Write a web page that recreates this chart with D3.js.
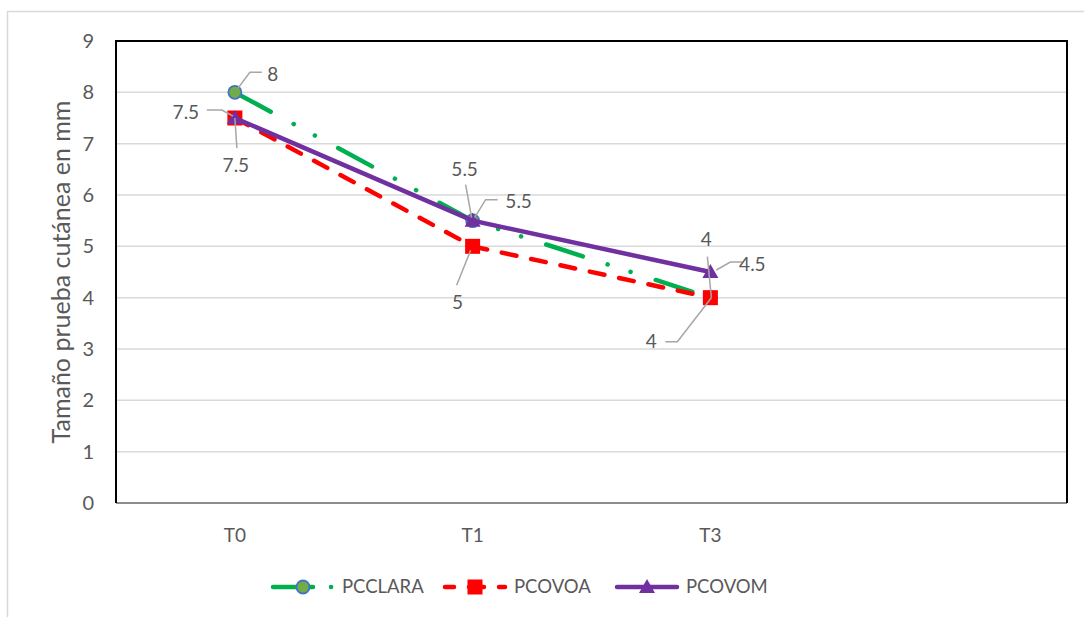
<!DOCTYPE html>
<html>
<head>
<meta charset="utf-8">
<script src="https://cdn.jsdelivr.net/npm/d3@7/dist/d3.min.js"></script>
<style>
body { margin: 0; background: #fff; }
text { font-family: Lato, "Open Sans", sans-serif; fill: #595959; }
.grid line { stroke: #d9d9d9; stroke-width: 1.5px; }
.lead { fill: none; stroke: #a6a6a6; stroke-width: 1.5px; }
</style>
</head>
<body>
<script>
// data
var categories = ["T0", "T1", "T3", ""];
var pcclara = [8, 5.5, 4];
var pcovoa = [7.5, 5, 4];
var pcovom = [7.5, 5.5, 4.5];
var seriesNames = ["PCCLARA", "PCOVOA", "PCOVOM"];
var yTicks = [0, 1, 2, 3, 4, 5, 6, 7, 8, 9];

var width = 1084, height = 617;
var margin = {left: 116, top: 41, right: 17, bottom: 114};

var svg = d3.select("body").append("svg")
    .attr("width", width)
    .attr("height", height);

// outer chart frame (cut off on right and bottom)
svg.append("path")
    .attr("d", "M7.5," + height + "V11.5H" + width)
    .attr("fill", "none")
    .attr("stroke", "#d9d9d9")
    .attr("stroke-width", 1.5);

var x = d3.scaleBand()
    .domain(categories)
    .range([margin.left, width - margin.right]);
var y = d3.scaleLinear()
    .domain([0, 9])
    .range([height - margin.bottom, margin.top]);

var px = function(i) { return x(categories[i]) + x.bandwidth() / 2; };

// gridlines
svg.append("g")
    .attr("class", "grid")
    .selectAll("line")
    .data(yTicks.slice(1))
  .enter().append("line")
    .attr("x1", margin.left).attr("x2", width - margin.right)
    .attr("y1", d => y(d)).attr("y2", d => y(d));

// y tick labels
svg.append("g").selectAll("text")
    .data(yTicks)
  .enter().append("text")
    .attr("x", margin.left - 22)
    .attr("y", d => y(d))
    .attr("dy", "0.35em")
    .attr("text-anchor", "end")
    .style("font-size", "20px")
    .text(d => d);

// x tick labels
svg.append("g").selectAll("text")
    .data(categories)
  .enter().append("text")
    .attr("x", d => x(d) + x.bandwidth() / 2)
    .attr("y", y(0) + 32)
    .attr("dy", "0.35em")
    .attr("text-anchor", "middle")
    .style("font-size", "19px")
    .text(d => d);

// axis title
svg.append("text")
    .attr("transform", "translate(61," + ((margin.top + y(0)) / 2) + ") rotate(-90)")
    .attr("text-anchor", "middle")
    .attr("dy", "0.35em")
    .style("font-size", "25px")
    .text("Tamaño prueba cutánea en mm");

// plot frame
svg.append("line")
    .attr("x1", margin.left).attr("x2", width - margin.right)
    .attr("y1", y(0)).attr("y2", y(0))
    .attr("stroke", "#8c8c8c").attr("stroke-width", 2);
svg.append("path")
    .attr("d", "M" + margin.left + "," + y(0) + "V" + margin.top + "H" + (width - margin.right) + "V" + y(0))
    .attr("fill", "none")
    .attr("stroke", "#000")
    .attr("stroke-width", 2);

var styles = [
  {color: "#00B050", dash: "38.5,26,0.1,24,0.1,26.4", marker: "circle"},
  {color: "#FF0000", dash: "15,15", marker: "square"},
  {color: "#7030A0", dash: null, marker: "triangle"}
];
var allSeries = [pcclara, pcovoa, pcovom];

var line = d3.line()
    .x((d, i) => px(i))
    .y(d => y(d));

function drawMarker(g, type, cx, cy) {
  if (type == "circle") {
    g.append("circle").attr("cx", cx).attr("cy", cy).attr("r", 6.5)
      .attr("fill", "#70AD47").attr("stroke", "#4472C4").attr("stroke-width", 1.8);
  } else if (type == "square") {
    g.append("rect").attr("x", cx - 7.5).attr("y", cy - 7.5)
      .attr("width", 15).attr("height", 15).attr("fill", "#FF0000");
  } else {
    g.append("path")
      .attr("d", "M" + cx + "," + (cy - 8) + "L" + (cx + 8) + "," + (cy + 6) + "L" + (cx - 8) + "," + (cy + 6) + "Z")
      .attr("fill", "#7030A0");
  }
}

allSeries.forEach(function(vals, s) {
  var g = svg.append("g");
  g.append("path")
    .datum(vals)
    .attr("d", line)
    .attr("fill", "none")
    .attr("stroke", styles[s].color)
    .attr("stroke-width", 4.5)
    .attr("stroke-linecap", "round")
    .attr("stroke-dasharray", styles[s].dash)
    .attr("stroke-dashoffset", s == 0 ? -2.25 : 0);
  vals.forEach(function(v, i) { drawMarker(g, styles[s].marker, px(i), y(v)); });
});

// data labels: [series, point, text dx, text dy, leader points relative to the point]
var labelSpots = [
  [0, 0, 38, -18, [[3, -4], [15, -20], [27, -20]]],
  [1, 0, -49, -6, [[-2, -2], [-13, -8], [-28, -8]]],
  [2, 0, 1, 47, [[0, 0], [2, 30]]],
  [0, 1, -8, -51, [[-1, -3], [-7, -36]]],
  [2, 1, 46, -19, [[2, -3], [13, -21], [25, -21]]],
  [1, 1, -15, 56, [[-2, 4], [-16, 39]]],
  [0, 2, -4, -58, [[1, 0], [-3, -41]]],
  [1, 2, -59, 44, [[1, 0], [-33, 44], [-45, 44]]],
  [2, 2, 42, -8, [[6, -2], [20, -10], [32, -10]]]
];

var lg = svg.append("g");
labelSpots.forEach(function(l) {
  var cx = px(l[1]), cy = y(allSeries[l[0]][l[1]]);
  lg.append("path")
    .attr("class", "lead")
    .attr("d", d3.line()(l[4].map(p => [cx + p[0], cy + p[1]])));
  lg.append("text")
    .attr("x", cx + l[2])
    .attr("y", cy + l[3])
    .attr("dy", "0.35em")
    .attr("text-anchor", "middle")
    .style("font-size", "19px")
    .text(allSeries[l[0]][l[1]]);
});

// legend
var legendX = [303, 475, 647];
var legendY = 587;
seriesNames.forEach(function(name, s) {
  var g = svg.append("g");
  var cx = legendX[s];
  g.append("line")
    .attr("x1", cx - 30).attr("x2", cx + 30)
    .attr("y1", legendY).attr("y2", legendY)
    .attr("stroke", styles[s].color)
    .attr("stroke-width", 4.5)
    .attr("stroke-linecap", "round")
    .attr("stroke-dasharray", s == 0 ? "40,18,0.1,40" : styles[s].dash)
    .attr("stroke-dashoffset", s == 1 ? 6 : 0);
  drawMarker(g, styles[s].marker, cx, legendY);
  g.append("text")
    .attr("x", cx + 39)
    .attr("y", legendY)
    .attr("dy", "0.35em")
    .style("font-size", "18.5px")
    .text(name);
});
</script>
</body>
</html>
